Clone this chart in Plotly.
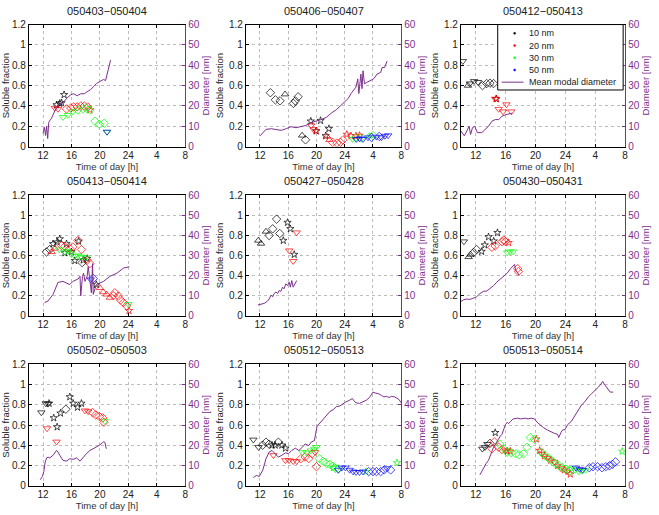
import plotly.graph_objects as go

PURPLE = "#7E2F8E"
SIZE_COLORS = {10: "#000000", 20: "#FF0000", 30: "#00FF00", 50: "#0000FF"}
SYMBOL_NAMES = {"s": "star-open", "d": "diamond-open", "v": "triangle-down-open", "^": "triangle-up-open"}
SYMBOL_SIZES = {"s": 5.5, "d": 6.5, "v": 6.5, "^": 6.5}

TITLES = ["050403\u2212050404", "050406\u2212050407", "050412\u2212050413",
          "050413\u2212050414", "050427\u2212050428", "050430\u2212050431",
          "050502\u2212050503", "050512\u2212050513", "050513\u2212050514"]
XTICK_VALS = [12, 16, 20, 24, 28, 32]
XTICK_TEXT = ["12", "16", "20", "24", "4", "8"]
LEGEND_SIZES = [10, 20, 30, 50]
LEGEND_LABELS = ["10 nm", "20 nm", "30 nm", "50 nm", "Mean modal diameter"]

# ---------------- panel 1 : 050403-050404
P1_T = [13.9, 14.35, 14.6, 14.96,
        13.65, 14.1, 15.3, 15.9, 16.3, 16.8, 17.3, 17.8, 18.3, 18.6,
        14.8, 15.5, 16.2, 16.9, 17.6, 18.1, 18.6, 19.3, 19.9, 20.6, 21.0,
        21.0]
P1_F = [0.41, 0.425, 0.43, 0.51,
        0.38, 0.37, 0.37, 0.38, 0.39, 0.39, 0.40, 0.40, 0.39, 0.36,
        0.29, 0.31, 0.345, 0.36, 0.37, 0.375, 0.36, 0.25, 0.22, 0.23, 0.145,
        0.145]
P1_NM = [10, 10, 10, 10,
         20, 20, 20, 20, 20, 20, 20, 20, 20, 20,
         30, 30, 30, 30, 30, 30, 30, 30, 30, 30, 30,
         50]
P1_SYM = ["s", "s", "s", "s",
          "v", "v", "d", "d", "d", "d", "d", "d", "d", "s",
          "v", "v", "v", "d", "d", "d", "d", "d", "d", "d", "v",
          "v"]
P1_LT = [12.0, 12.2, 12.35, 12.5, 12.65, 12.8, 13.2, 13.7, 14.2, 14.9, 15.4, 15.9, 16.3,
         16.8, 17.3, 17.8, 18.2, 18.7, 19.1, 19.5, 20.0, 20.5, 20.8, 21.0, 21.2, 21.5]
P1_LD = [6.5, 9.5, 5.5, 10.0, 4.0, 12.0, 14.0, 18.0, 20.5, 22.0, 24.0, 25.5, 26.0,
         25.0, 26.0, 26.0, 27.0, 28.0, 29.5, 31.0, 32.0, 33.0, 32.5, 35.0, 38.0, 42.5]

# ---------------- panel 2 : 050406-050407
P2_T = [13.47, 14.18, 14.84, 15.55, 16.74, 17.0, 17.4, 17.97, 18.45, 19.2, 20.58, 21.3, 21.76, 19.96,
        19.25, 19.58, 19.96, 21.48, 21.86, 22.3, 22.9, 23.4, 23.75, 24.3, 24.9, 25.6, 26.1,
        25.1, 25.55, 26.3, 27.5, 28.0,
        25.65, 26.1, 26.6, 27.3, 27.8, 28.5, 28.9, 29.2, 29.7, 30.15]
P2_F = [0.53, 0.46, 0.45, 0.515, 0.425, 0.45, 0.49, 0.11, 0.067, 0.25, 0.256, 0.106, 0.176, 0.154,
        0.208, 0.17, 0.154, 0.10, 0.067, 0.042, 0.035, 0.042, 0.067, 0.12, 0.105, 0.105, 0.11,
        0.074, 0.09, 0.085, 0.105, 0.11,
        0.074, 0.08, 0.074, 0.09, 0.09, 0.096, 0.10, 0.09, 0.105, 0.11]
P2_NM = [10] * 14 + [20] * 13 + [30] * 5 + [50] * 10
P2_SYM = ["d", "d", "d", "^", "d", "d", "d", "^", "d", "s", "s", "s", "s", "s",
          "v", "v", "s", "^", "^", "d", "d", "d", "d", "s", "s", "s", "s",
          "v", "d", "d", "^", "d",
          "v", "v", "v", "v", "d", "v", "d", "v", "v", "v"]
P2_LT = [12.0, 12.85, 13.6, 14.3, 15.0, 15.7, 16.4, 17.1, 17.8, 18.5, 19.1, 19.95, 20.7, 21.4,
         22.1, 22.8, 23.3, 24.0, 24.5, 24.9, 25.4, 25.6, 25.85, 26.0, 26.3, 26.45, 26.6, 26.8,
         27.2, 27.7, 28.1, 28.6, 29.1, 29.3, 29.65, 30.0]
P2_LD = [5.3, 8.5, 8.8, 8.5, 8.0, 8.8, 9.8, 9.3, 10.0, 10.4, 11.7, 12.5, 13.3, 14.4,
         16.5, 18.1, 19.7, 21.6, 23.7, 26.1, 28.5, 29.3, 33.3, 26.1, 35.7, 28.5, 37.3, 30.9,
         31.7, 32.5, 33.3, 35.7, 36.5, 38.9, 38.9, 42.0]

# ---------------- panel 3 : 050412-050413
P3_T = [10.26, 10.95, 11.2, 11.77, 12.3, 12.9, 13.46, 13.9, 14.37, 14.74,
        14.6, 15.06, 15.65, 16.1, 16.75, 14.74]
P3_F = [0.84, 0.60, 0.62, 0.643, 0.634, 0.60, 0.62, 0.624, 0.62, 0.47,
        0.47, 0.37, 0.345, 0.415, 0.345, 0.47]
P3_NM = [10] * 10 + [20] * 6
P3_SYM = ["v", "^", "v", "v", "v", "d", "d", "d", "d", "s",
          "v", "v", "v", "v", "v", "s"]
P3_LT = [10.0, 10.45, 10.8, 11.1, 11.3, 11.55, 11.86, 12.2, 12.8, 13.2, 13.7, 14.15, 14.6,
         15.06, 15.5, 16.0, 16.4, 16.9]
P3_LD = [7.7, 5.3, 7.7, 10.0, 6.0, 9.3, 10.0, 6.9, 6.9, 8.5, 10.0, 12.5, 13.3,
         13.3, 14.9, 15.7, 16.2, 16.5]

# ---------------- panel 4 : 050413-050414
P4_T = [12.47, 12.94, 13.4, 13.98, 14.35, 15.3, 16.0, 15.06, 16.47, 17.0, 17.65, 18.2, 19.5, 17.5,
        13.2, 13.65, 14.6, 15.06, 15.75, 16.2, 16.9, 17.4, 18.2, 18.6, 20.0, 20.47, 20.94, 21.4,
        21.9, 22.1, 22.6, 22.9, 23.3, 23.76, 24.1,
        14.26, 15.06, 15.5, 15.9, 16.47, 16.94, 17.4, 18.0, 24.0,
        18.7, 19.06]
P4_F = [0.636, 0.66, 0.717, 0.734, 0.766, 0.717, 0.636, 0.626, 0.548, 0.743, 0.554, 0.57, 0.31, 0.53,
        0.636, 0.67, 0.70, 0.69, 0.67, 0.685, 0.75, 0.66, 0.554, 0.52, 0.277, 0.235, 0.212, 0.18,
        0.20, 0.228, 0.196, 0.156, 0.13, 0.098, 0.049,
        0.66, 0.636, 0.645, 0.62, 0.593, 0.60, 0.587, 0.58, 0.114,
        0.36, 0.37]
P4_NM = [10] * 14 + [20] * 21 + [30] * 9 + [50] * 2
P4_SYM = ["d", "d", "s", "s", "s", "s", "s", "s", "s", "s", "s", "s", "s", "d",
          "^", "^", "d", "d", "d", "d", "d", "d", "d", "d", "^", "^", "^", "^",
          "d", "d", "d", "d", "d", "d", "s",
          "v", "v", "v", "v", "v", "v", "v", "v", "v",
          "v", "d"]
P4_LT = [12.2, 12.7, 13.4, 14.1, 14.8, 15.3, 15.76, 16.2, 16.94, 17.2, 17.3, 17.55, 17.7, 17.9,
         18.2, 18.35, 18.6, 18.8, 18.97, 19.06, 19.5, 20.5, 21.4, 22.4, 23.3, 24.15]
P4_LD = [6.5, 7.3, 10.6, 16.6, 17.1, 16.3, 15.5, 17.1, 18.3, 19.6, 9.8, 19.6, 21.2, 17.1,
         19.6, 24.5, 16.3, 11.4, 26.0, 10.6, 15.5, 17.1, 19.6, 21.2, 23.7, 24.4]

# ---------------- panel 5 : 050427-050428
P5_T = [11.76, 12.14, 12.85, 13.3, 13.8, 14.35, 14.8, 15.3, 15.9, 16.3, 16.85,
        16.14, 16.7, 17.2]
P5_F = [0.75, 0.72, 0.84, 0.80, 0.867, 0.964, 0.82, 0.75, 0.93, 0.867, 0.61,
        0.65, 0.544, 0.83]
P5_NM = [10] * 11 + [20] * 3
P5_SYM = ["^", "^", "^", "d", "d", "d", "d", "s", "s", "s", "s",
          "v", "v", "v"]
P5_LT = [11.7, 12.14, 12.6, 13.08, 13.3, 13.55, 13.8, 14.0, 14.26, 14.5, 14.73, 14.96, 15.2,
         15.4, 15.67, 15.9, 16.14, 16.3, 16.5, 16.7, 17.0, 17.2]
P5_LD = [5.3, 5.7, 6.1, 7.3, 8.3, 10.2, 9.4, 11.0, 11.8, 11.0, 12.6, 12.1, 14.2,
         13.4, 15.9, 15.0, 16.7, 14.2, 17.5, 14.2, 16.7, 17.5]

# ---------------- panel 6 : 050430-050431
P6_T = [10.4, 11.04, 11.3, 11.7, 12.1, 12.78, 13.2, 13.7, 14.4, 14.9,
        14.15, 14.6, 15.5, 15.75, 15.97, 16.4, 17.6, 17.7,
        16.2, 16.6, 17.0]
P6_F = [0.74, 0.586, 0.61, 0.63, 0.66, 0.64, 0.705, 0.786, 0.744, 0.828,
        0.683, 0.696, 0.738, 0.754, 0.74, 0.728, 0.47, 0.44,
        0.63, 0.64, 0.64]
P6_NM = [10] * 10 + [20] * 8 + [30] * 3
P6_SYM = ["v", "^", "^", "d", "d", "s", "s", "s", "s", "s",
          "d", "d", "d", "d", "d", "s", "d", "d",
          "v", "v", "v"]
P6_LT = [10.0, 10.3, 10.7, 11.2, 11.6, 12.1, 12.55, 13.0, 13.46, 13.9, 14.4, 14.8, 15.3,
         15.7, 16.2, 16.66, 17.0, 17.2, 17.3, 17.57, 17.8]
P6_LD = [7.0, 7.8, 8.3, 8.1, 8.6, 9.4, 11.0, 12.1, 12.3, 13.4, 15.0, 16.7, 18.3,
         19.6, 21.2, 23.5, 24.8, 25.6, 23.1, 21.2, 20.2]

# ---------------- panel 7 : 050502-050503
P7_T = [11.76, 12.38, 12.85, 12.7, 13.5, 13.98, 14.45, 15.2, 15.76, 16.24, 16.85, 17.4,
        12.56, 13.9, 17.9, 18.35, 18.96, 19.4, 19.9, 20.4, 20.56,
        20.7]
P7_F = [0.724, 0.814, 0.814, 0.81, 0.67, 0.58, 0.717, 0.756, 0.878, 0.814, 0.775, 0.814,
        0.566, 0.434, 0.743, 0.734, 0.724, 0.70, 0.685, 0.67, 0.627,
        0.637]
P7_NM = [10] * 12 + [20] * 9 + [30]
P7_SYM = ["v", "v", "s", "v", "s", "s", "s", "d", "s", "s", "s", "s",
          "v", "v", "v", "v", "d", "d", "d", "d", "d",
          "v"]
P7_LT = [11.6, 11.9, 12.1, 12.3, 12.5, 12.7, 12.94, 13.4, 13.9, 14.1, 14.35, 14.8, 15.3,
         15.76, 16.24, 16.7, 17.2, 17.65, 18.1, 18.6, 19.06, 19.5, 20.0, 20.5, 20.7, 20.9]
P7_LD = [2.9, 4.5, 6.9, 11.7, 13.7, 14.1, 13.7, 15.0, 17.4, 16.6, 15.0, 12.5, 12.1,
         13.3, 13.0, 13.7, 12.1, 14.1, 15.8, 17.4, 18.2, 19.0, 20.1, 21.7, 21.4, 18.2]

# ---------------- panel 8 : 050512-050513
P8_T = [11.06, 11.8, 12.38, 12.85, 13.3, 13.7, 14.16, 14.6, 15.1, 15.6,
        13.9, 15.6, 16.1, 16.7, 17.2, 17.8, 18.4, 18.9, 19.4, 19.8, 20.0,
        18.0, 18.6, 19.2, 19.7, 20.0, 20.4, 20.94, 21.4, 21.9, 22.3, 22.7, 23.1, 22.4, 27.0, 31.4,
        23.1, 23.6, 24.1, 24.7, 25.2, 25.6, 26.1, 26.6, 27.4, 28.0, 28.5, 29.1, 29.6, 30.0, 30.5]
P8_F = [0.454, 0.38, 0.40, 0.43, 0.41, 0.40, 0.40, 0.43, 0.40, 0.37,
        0.30, 0.25, 0.25, 0.24, 0.24, 0.267, 0.283, 0.267, 0.315, 0.33, 0.187,
        0.33, 0.325, 0.347, 0.364, 0.38, 0.267, 0.24, 0.22, 0.21, 0.193, 0.17, 0.164, 0.177, 0.138, 0.225,
        0.155, 0.177, 0.177, 0.155, 0.138, 0.132, 0.132, 0.138, 0.138, 0.138, 0.138, 0.138, 0.155, 0.17, 0.155]
P8_NM = [10] * 10 + [20] * 11 + [30] * 15 + [50] * 15
P8_SYM = ["v", "v", "d", "d", "d", "s", "s", "d", "s", "s",
          "v", "v", "v", "v", "v", "d", "d", "d", "d", "v", "d",
          "v", "v", "v", "v", "v", "d", "d", "d", "d", "d", "d", "d", "s", "s", "s",
          "v", "v", "v", "v", "v", "v", "v", "v", "d", "d", "d", "d", "d", "v", "d"]
P8_LT = [11.06, 11.5, 11.9, 12.4, 12.85, 13.3, 13.7, 14.16, 14.6, 15.1, 15.6, 16.05, 16.5,
         17.0, 17.5, 18.0, 18.4, 18.9, 19.3, 19.7, 19.9, 20.1, 20.5, 20.9, 21.4, 21.9,
         22.35, 22.8, 23.3, 23.76, 24.2, 24.7, 25.1, 25.3, 25.6, 26.1, 26.6, 27.06, 27.5,
         28.0, 28.4, 28.75, 29.2, 29.55, 29.9, 30.3, 30.6, 31.1, 31.7, 32.0]
P8_LD = [4.0, 5.0, 4.5, 7.7, 13.3, 16.6, 17.4, 15.8, 14.1, 15.0, 16.2, 15.8, 17.4,
         18.5, 17.4, 19.0, 20.6, 19.8, 21.7, 22.2, 25.4, 29.7, 31.0, 32.6, 34.2, 36.7,
         37.5, 39.1, 39.4, 40.7, 41.5, 42.3, 43.1, 42.0, 41.0, 40.7, 41.5, 42.3, 43.6,
         46.3, 45.8, 45.5, 44.7, 43.9, 44.2, 43.6, 44.2, 43.9, 42.6, 41.0]

# ---------------- panel 9 : 050513-050514
P9_T = [12.87, 13.23, 13.55, 13.9, 14.6,
        14.15, 14.47, 15.06, 15.5, 15.97, 16.2, 16.6, 20.1, 20.55, 20.86, 21.2, 21.6, 22.05,
        22.5, 22.96, 23.4, 23.87, 24.2, 24.65,
        15.2, 15.74, 16.2, 16.75, 17.35, 17.8, 18.4, 18.85, 19.3, 19.85, 20.77, 21.2, 21.7,
        22.1, 22.6, 23.1, 23.6, 24.05, 24.6, 24.8, 25.3, 25.8, 26.2, 26.7, 31.6,
        25.4, 25.9, 26.3, 27.2, 27.7, 28.3, 28.9, 29.4, 29.9, 30.3, 30.7]
P9_F = [0.364, 0.38, 0.41, 0.418, 0.524,
        0.364, 0.434, 0.38, 0.357, 0.347, 0.34, 0.34, 0.46, 0.347, 0.315, 0.293, 0.273, 0.25,
        0.235, 0.196, 0.17, 0.154, 0.138, 0.113,
        0.41, 0.364, 0.33, 0.325, 0.315, 0.306, 0.315, 0.38, 0.476, 0.46, 0.33, 0.30, 0.273,
        0.25, 0.22, 0.20, 0.177, 0.164, 0.145, 0.17, 0.154, 0.138, 0.145, 0.154, 0.338,
        0.177, 0.164, 0.154, 0.177, 0.187, 0.187, 0.177, 0.187, 0.196, 0.21, 0.235]
P9_NM = [10] * 5 + [20] * 19 + [30] * 25 + [50] * 11
P9_SYM = ["v", "v", "v", "d", "s",
          "d", "d", "d", "d", "v", "s", "s", "s", "s", "v", "s", "v", "s",
          "v", "s", "v", "s", "v", "s",
          "d", "d", "d", "d", "d", "d", "d", "d", "d", "d", "d", "d", "d",
          "d", "d", "d", "d", "d", "d", "v", "v", "v", "v", "v", "s",
          "v", "v", "v", "d", "d", "d", "d", "d", "d", "d", "d"]
P9_LT = [12.55, 13.0, 13.37, 13.7, 13.9, 14.15, 14.37, 14.74, 15.06, 15.3, 15.5, 15.74, 15.97,
         16.2, 16.4, 16.66, 17.0, 17.57, 18.0, 18.6, 19.0, 19.4, 19.85, 20.2, 20.7, 21.1,
         21.6, 22.05, 22.5, 22.96, 23.1, 23.4, 23.6, 23.96, 24.3, 24.8, 25.2, 25.7, 26.15,
         26.6, 27.06, 27.5, 28.0, 28.4, 28.76, 29.0, 29.2, 29.45, 29.7, 30.0, 30.4]
P9_LD = [5.3, 8.5, 10.9, 12.5, 15.0, 16.9, 19.0, 21.4, 23.0, 24.6, 25.4, 27.8, 30.2,
         31.4, 30.7, 31.8, 33.0, 33.4, 33.0, 33.4, 33.0, 33.4, 33.0, 31.4, 29.7, 28.6,
         27.5, 26.5, 25.9, 25.4, 23.8, 26.2, 27.5, 27.8, 30.2, 31.8, 34.2, 37.5, 39.9,
         41.5, 43.9, 45.5, 47.1, 48.7, 50.3, 51.6, 50.3, 49.0, 47.9, 46.3, 46.3]

PANELS = [
    (P1_T, P1_F, P1_NM, P1_SYM, P1_LT, P1_LD),
    (P2_T, P2_F, P2_NM, P2_SYM, P2_LT, P2_LD),
    (P3_T, P3_F, P3_NM, P3_SYM, P3_LT, P3_LD),
    (P4_T, P4_F, P4_NM, P4_SYM, P4_LT, P4_LD),
    (P5_T, P5_F, P5_NM, P5_SYM, P5_LT, P5_LD),
    (P6_T, P6_F, P6_NM, P6_SYM, P6_LT, P6_LD),
    (P7_T, P7_F, P7_NM, P7_SYM, P7_LT, P7_LD),
    (P8_T, P8_F, P8_NM, P8_SYM, P8_LT, P8_LD),
    (P9_T, P9_F, P9_NM, P9_SYM, P9_LT, P9_LD),
]

# ---------------- layout geometry (pixels of the 659x515 canvas)
W, H = 659, 515
COL_PX = [(29, 186), (247, 403), (463, 628)]
ROW_PX = [(19, 144), (194, 317), (367, 491)]
LEG_BOX = (500, 19, 626, 86)          # x0, y0, x1, y1 in px
LEG_ROWS = [28, 40.5, 53, 65.5, 78]   # row centres in px

FONT = "Liberation Sans, Arial, sans-serif"
GRID = "#bdbdbd"
fig = go.Figure()
layout = dict(
    width=W, height=H, margin=dict(l=0, r=0, t=0, b=0),
    paper_bgcolor="white", plot_bgcolor="white",
    font=dict(family=FONT, size=10, color="#222222"),
    showlegend=False,
)
annotations = []
shapes = []

for i, (T, F, NM, SYM, LT, LD) in enumerate(PANELS):
    r, c = divmod(i, 3)
    x0, x1 = COL_PX[c]
    y0, y1 = ROW_PX[r]
    xd = [x0 / W, x1 / W]
    yd = [1 - y1 / H, 1 - y0 / H]
    xn = i + 1
    yl = 2 * i + 1
    yr = 2 * i + 2
    xkey = "xaxis" if xn == 1 else f"xaxis{xn}"
    xref = "x" if xn == 1 else f"x{xn}"
    ylref = "y" if yl == 1 else f"y{yl}"
    ylkey = "yaxis" if yl == 1 else f"yaxis{yl}"
    yrref = f"y{yr}"
    yrkey = f"yaxis{yr}"

    layout[xkey] = dict(
        domain=xd, anchor=ylref, range=[10, 32], tickvals=XTICK_VALS, ticktext=XTICK_TEXT,
        showgrid=True, gridcolor=GRID, griddash="dot", gridwidth=1,
        showline=True, linecolor="black", linewidth=1, mirror="ticks",
        ticks="inside", ticklen=3, tickcolor="black", zeroline=False,
        tickfont=dict(size=10, color="#222222"), ticklabelstandoff=-1,
        title=dict(text="Time of day [h]", font=dict(size=9.5, color="#333333"), standoff=0),
    )
    layout[ylkey] = dict(
        domain=yd, anchor=xref, range=[0, 1.2], tickvals=[0, 0.2, 0.4, 0.6, 0.8, 1.0, 1.2],
        ticktext=["0", "0.2", "0.4", "0.6", "0.8", "1", "1.2"],
        showgrid=True, gridcolor=GRID, griddash="dot", gridwidth=1,
        showline=True, linecolor="black", linewidth=1, mirror=False,
        ticks="inside", ticklen=3, tickcolor="black", zeroline=False,
        tickfont=dict(size=10, color="#222222"),
        title=dict(text="Soluble fraction", font=dict(size=9.5, color="#222222"), standoff=3),
    )
    layout[yrkey] = dict(
        overlaying=ylref, anchor=xref, side="right", range=[0, 60],
        tickvals=[0, 10, 20, 30, 40, 50, 60],
        showgrid=False, showline=True, linecolor=PURPLE, linewidth=1,
        ticks="inside", ticklen=3, tickcolor=PURPLE, zeroline=False,
        tickfont=dict(size=10, color=PURPLE),
        title=dict(text="Diameter [nm]", font=dict(size=9.5, color=PURPLE), standoff=3),
    )

    for nm in LEGEND_SIZES:
        idx = [k for k in range(len(T)) if NM[k] == nm]
        if not idx:
            continue
        col = SIZE_COLORS[nm]
        fig.add_trace(go.Scatter(
            x=[T[k] for k in idx], y=[F[k] for k in idx], mode="markers",
            marker=dict(symbol=[SYMBOL_NAMES[SYM[k]] for k in idx],
                        size=[SYMBOL_SIZES[SYM[k]] for k in idx], color=col,
                        line=dict(color=col, width=1)),
            xaxis=xref, yaxis=ylref, name=f"{nm} nm", hoverinfo="x+y",
        ))
    fig.add_trace(go.Scatter(
        x=LT, y=LD, mode="lines", line=dict(color=PURPLE, width=1),
        xaxis=xref, yaxis=yrref, name="Mean modal diameter",
    ))

    annotations.append(dict(
        text=TITLES[i], xref="paper", yref="paper", x=(xd[0] + xd[1]) / 2, y=yd[1],
        xanchor="center", yanchor="bottom", yshift=6, showarrow=False,
        font=dict(size=11, color="#222222"),
    ))

# ---------------- legend box (drawn, plotly's own legend rows are too tall here)
lx0, ly0, lx1, ly1 = LEG_BOX
shapes.append(dict(type="rect", xref="paper", yref="paper",
                   x0=lx0 / W, x1=lx1 / W, y0=1 - ly1 / H, y1=1 - ly0 / H,
                   line=dict(color="black", width=1), fillcolor="white", layer="above"))
for k, label in enumerate(LEGEND_LABELS):
    yc = 1 - LEG_ROWS[k] / H
    if k < 4:
        col = SIZE_COLORS[LEGEND_SIZES[k]]
        shapes.append(dict(type="circle", xref="paper", yref="paper",
                           x0=(517 - 1) / W, x1=(517 + 1) / W,
                           y0=yc - 1 / H, y1=yc + 1 / H,
                           line=dict(color=col, width=0.5), fillcolor=col, layer="above"))
    else:
        shapes.append(dict(type="line", xref="paper", yref="paper",
                           x0=504 / W, x1=526 / W, y0=yc, y1=yc,
                           line=dict(color=PURPLE, width=1), layer="above"))
    annotations.append(dict(
        text=label, xref="paper", yref="paper", x=529 / W, y=yc,
        xanchor="left", yanchor="middle", showarrow=False,
        font=dict(size=9, color="#222222"),
    ))

layout["annotations"] = annotations
layout["shapes"] = shapes
fig.update_layout(**layout)
fig.write_html("out.html")
